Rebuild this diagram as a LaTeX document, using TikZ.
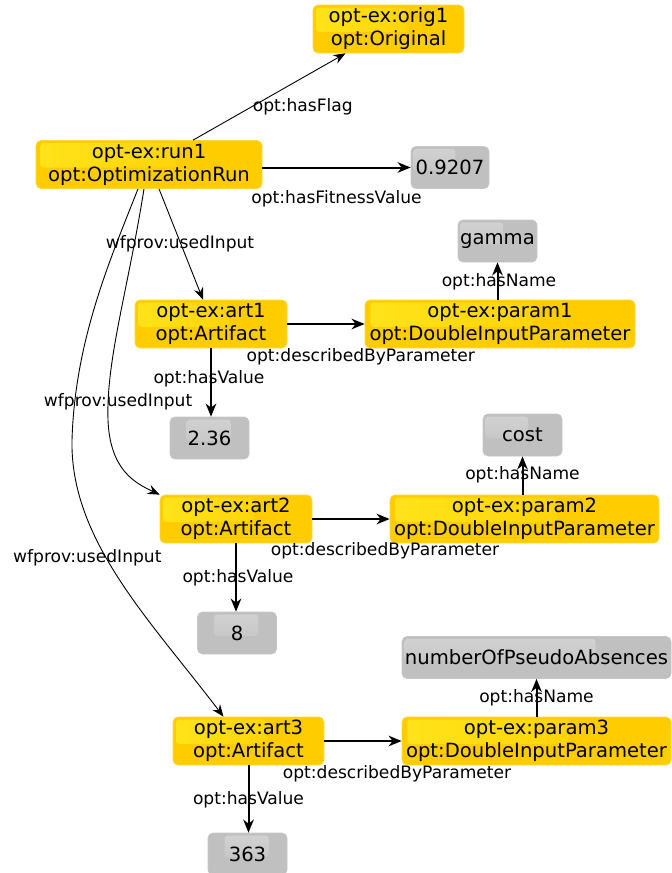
\documentclass[tikz,border=0pt]{standalone}
\usepackage{fontspec}
\setmainfont{DejaVu Sans}
\usetikzlibrary{arrows.meta,calc}

\definecolor{ontogold}{HTML}{FFCC00}
\definecolor{ontogoldhi}{HTML}{FFE31A}
\definecolor{ontoedge}{HTML}{FFD838}
\definecolor{litgray}{HTML}{C0C0C0}
\definecolor{litgrayhi}{HTML}{D2D2D2}

\newcommand{\instfont}{\fontsize{19.6}{23}\selectfont}
\newcommand{\relfont}{\fontsize{17.1}{19}\selectfont}

% shiny spot in the upper part of a box: shading, from, to (fractions of the width)
\newcommand{\glossbox}[3]{%
  \path[#1,rounded corners=3pt]
    ($(path picture bounding box.north west)!#2!(path picture bounding box.north east)+(0pt,-2.5pt)$)
    rectangle
    ($(path picture bounding box.west)!#3!(path picture bounding box.east)+(0pt,-3pt)$);}

\begin{document}
\begin{tikzpicture}[x=1pt,y=-1pt,
  inst/.style={fill=ontogold, draw=ontoedge, line width=0.7pt, rounded corners=5pt,
    align=center, font=\instfont, inner sep=1pt, minimum height=48pt, minimum width=#1,
    execute at begin node={\rule{0pt}{18pt}},
    path picture={\glossbox{left color=ontogoldhi, right color=ontogold}{0.02}{0.62}}},
  lit/.style={fill=litgray, draw=litgray!90!white, line width=0.7pt, rounded corners=5pt,
    font=\instfont, inner sep=1pt, minimum height=42pt, minimum width=#1,
    path picture={\glossbox{top color=litgrayhi, bottom color=litgray}{0.03}{0.57}}},
  litmid/.style={lit=79pt,
    path picture={\glossbox{top color=litgrayhi, bottom color=litgray}{0.21}{0.77}}},
  rel/.style={-{Stealth[length=13pt,width=10.5pt,inset=4pt]}, line width=2pt},
  relthin/.style={-{Stealth[length=12pt,width=9.5pt,inset=4pt]}, line width=0.9pt},
  lbl/.style={font=\relfont, inner sep=0pt}]

  \useasboundingbox (0,0) rectangle (672,873);

  % ========== the run ==========
  \node[inst=151pt] (orig1) at (388.5,29)  {opt-ex:orig1\\opt:Original};
  \node[inst=226pt] (run1)  at (149,164.5) {opt-ex:run1\\opt:OptimizationRun};
  \node[lit=78pt]   (fit)   at (450,167.5) {0.9207};

  \draw[relthin] ([xshift=44pt]run1.north) -- node[lbl, pos=0.72, yshift=-29.5pt]{opt:hasFlag} ([xshift=-43pt]orig1.south);
  \draw[rel] (run1.east |- fit.west) -- node[lbl, pos=0.5, yshift=-31pt]{opt:hasFitnessValue} (fit.west);

  % ========== artifact 1 ==========
  \node[inst=152pt] (art1)   at (211,324)   {opt-ex:art1\\opt:Artifact};
  \node[inst=270pt] (param1) at (500,324)   {opt-ex:param1\\opt:DoubleInputParameter};
  \node[lit=79pt]   (gamma)  at (497.5,241) {gamma};
  \node[litmid]     (val1)   at (209.5,438) {2.36};

  \draw[rel] (art1.east) -- node[lbl, pos=0.95, yshift=-33pt]{opt:describedByParameter} (param1.west);
  \draw[rel] (gamma.south |- param1.north) -- node[lbl, pos=0.47, xshift=1.5pt]{opt:hasName} (gamma.south);
  \draw[rel] (art1.south) -- node[lbl, pos=0.45, xshift=-2pt]{opt:hasValue} (art1.south |- val1.north);

  % ========== artifact 2 ==========
  \node[inst=152pt] (art2)   at (236,519)   {opt-ex:art2\\opt:Artifact};
  \node[inst=269pt] (param2) at (524.5,519) {opt-ex:param2\\opt:DoubleInputParameter};
  \node[lit=79pt]   (cost)   at (522.5,435) {cost};
  \node[litmid]     (val2)   at (237,633)   {8};

  \draw[rel] (art2.east) -- node[lbl, pos=0.94, yshift=-32pt]{opt:describedByParameter} (param2.west);
  \draw[rel] (cost.south |- param2.north) -- node[lbl, pos=0.51]{opt:hasName} (cost.south);
  \draw[rel] (art2.south) -- node[lbl, pos=0.51, xshift=2pt]{opt:hasValue} (art2.south |- val2.north);

  % ========== artifact 3 ==========
  \node[inst=151pt] (art3)   at (248.5,741) {opt-ex:art3\\opt:Artifact};
  \node[inst=269pt] (param3) at (536.5,741) {opt-ex:param3\\opt:DoubleInputParameter};
  \node[lit=269pt, path picture={\glossbox{top color=litgrayhi, bottom color=litgray}{0.01}{0.72}}] (pseudo) at (536.5,657.5) {numberOfPseudoAbsences};
  \node[litmid]     (val3)   at (247.5,854) {363};

  \draw[rel] (art3.east) -- node[lbl, pos=0.94, yshift=-33pt]{opt:describedByParameter} (param3.west);
  \draw[rel] (param3.north) -- node[lbl, pos=0.49]{opt:hasName} (pseudo.south);
  \draw[rel] (art3.south) -- node[lbl, pos=0.51]{opt:hasValue} (art3.south |- val3.north);

  % ========== inputs of the run ==========
  \draw[relthin] ([xshift=10pt]run1.south) -- node[lbl, pos=0.5, xshift=-1pt]{wfprov:usedInput} ([xshift=-8pt]art1.north);
  \draw[relthin] ([xshift=-5pt]run1.south)
    .. controls (128,290) and (106,360) .. node[lbl, pos=0.9, xshift=10pt]{wfprov:usedInput} (108,420)
    .. controls (110,470) and (135,483) .. (art2.north west);
  \draw[relthin] ([xshift=-11pt]run1.south)
    .. controls (110,260) and (75,340) .. (72,440)
    .. controls (70,540) and (150,620) .. node[lbl, pos=0.42, xshift=-19pt]{wfprov:usedInput} ([xshift=-25pt]art3.north);

\end{tikzpicture}
\end{document}
